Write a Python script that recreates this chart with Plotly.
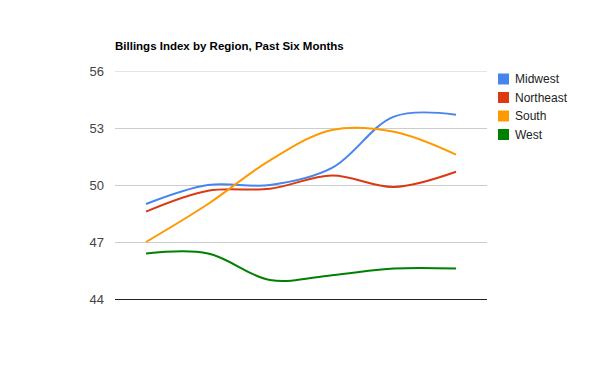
import plotly.graph_objects as go

months = ["M1", "M2", "M3", "M4", "M5", "M6"]
midwest = [49.0, 50.0, 50.0, 50.9, 53.6, 53.7]
northeast = [48.6, 49.7, 49.8, 50.5, 49.9, 50.7]
south = [47.0, 49.0, 51.3, 52.9, 52.8, 51.6]
west = [46.4, 46.4, 45.0, 45.25, 45.6, 45.6]
series_names = ["Midwest", "Northeast", "South", "West"]
colors = ["#4684ee", "#dc3912", "#ff9900", "#008000"]
y_ticks = [44, 47, 50, 53, 56]

# Figure geometry (page has an 8px body margin)
W, H = 592, 363
L, R, T, B = 107, 113, 63, 72
PW, PH = W - L - R, H - T - B


def px_x(x):
    return (x - L) / PW


def px_y(y):
    return (H - B - y) / PH


fig = go.Figure()
for name, vals, col in zip(series_names, [midwest, northeast, south, west], colors):
    fig.add_trace(go.Scatter(x=months, y=vals, mode="lines", name=name,
                             line=dict(color=col, width=2, shape="spline", smoothing=1.0),
                             showlegend=False))

# Legend (Google-style squares)
for i, (name, col) in enumerate(zip(series_names, colors)):
    cy = 71 + i * 18.5
    fig.add_shape(type="rect", xref="paper", yref="paper",
                  x0=px_x(490), x1=px_x(501), y0=px_y(cy + 5.5), y1=px_y(cy - 5.5),
                  fillcolor=col, line=dict(width=0))
    fig.add_annotation(xref="paper", yref="paper", x=px_x(505), y=px_y(cy),
                       xanchor="left", yanchor="middle", showarrow=False,
                       text=name, font=dict(size=12, color="#222"))

fig.update_layout(
    width=W, height=H,
    margin=dict(l=L, r=R, t=T, b=B),
    paper_bgcolor="white", plot_bgcolor="white",
    font=dict(family="Liberation Sans, Arial, sans-serif", size=12, color="#222"),
    title=dict(text="<b>Billings Index by Region, Past Six Months</b>",
               font=dict(size=11.5, color="#000"), x=L / W, xanchor="left",
               y=1 - 38 / H, yanchor="middle"),
    xaxis=dict(range=[-0.5, 5.5], showticklabels=False, showgrid=False,
               zeroline=False, showline=True, linecolor="#222222", linewidth=1,
               ticks=""),
    yaxis=dict(range=[44, 56], tickvals=y_ticks, showgrid=True, gridcolor="#cccccc",
               zeroline=False, showline=False, ticks="",
               tickfont=dict(size=13, color="#444"), ticklabelstandoff=10),
    showlegend=False,
)
fig.add_shape(type="line", xref="paper", yref="y", x0=0, x1=1, y0=56, y1=56,
              line=dict(color="#cccccc", width=1), layer="below")
fig.write_html("out.html")
